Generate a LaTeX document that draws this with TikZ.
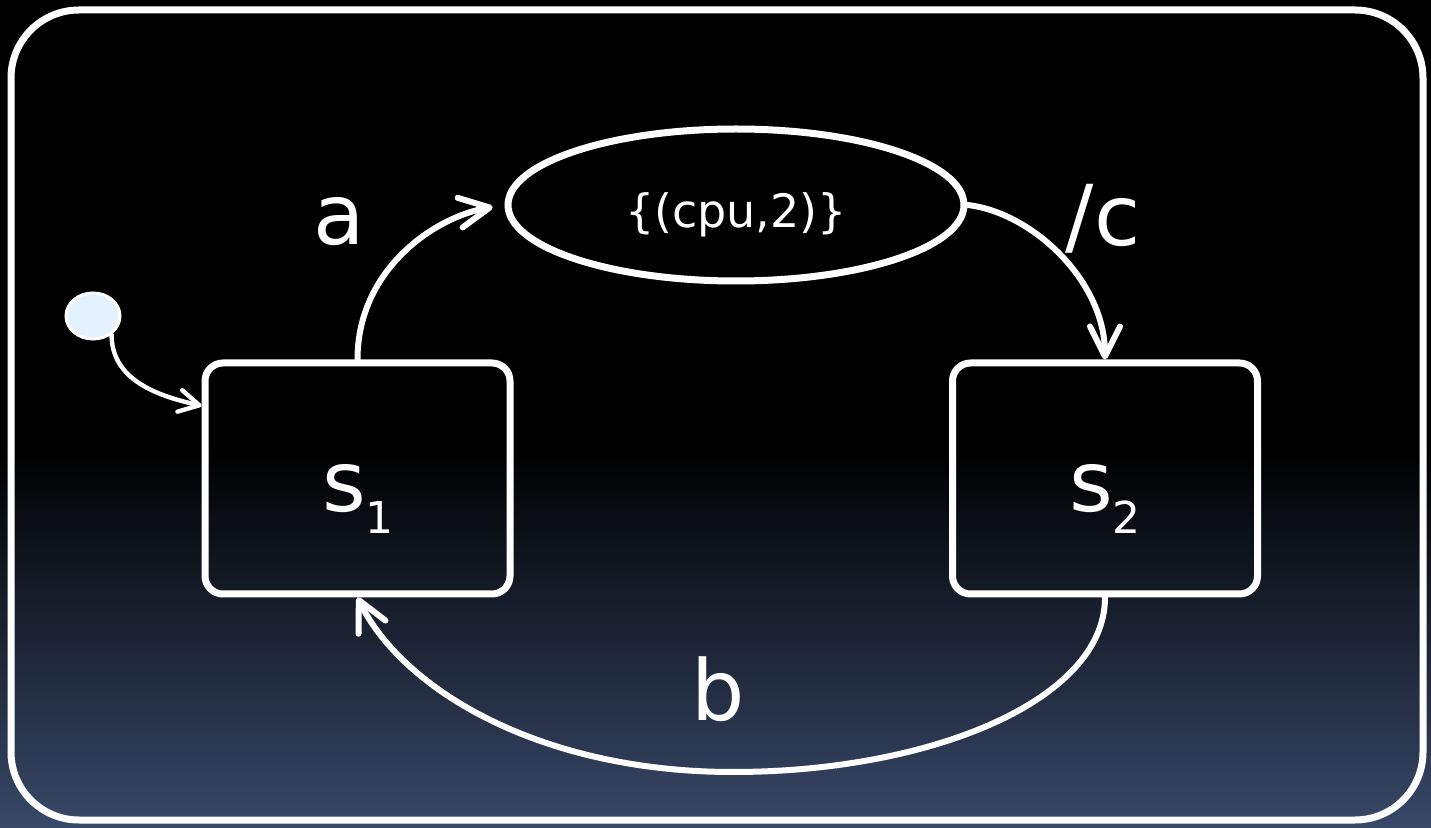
\documentclass[tikz,border=0pt]{standalone}
\usepackage{fontspec}
\setmainfont{DejaVu Sans}
\usetikzlibrary{shapes.geometric,arrows.meta,calc}
\definecolor{bgblue}{RGB}{56,72,104}
\definecolor{dotfill}{RGB}{228,242,255}
\newcommand{\statesub}[1]{\raisebox{-11pt}{\fontsize{22}{22}\selectfont #1}}
\begin{document}
\begin{tikzpicture}[x=0.5pt,y=-0.5pt,
  state/.style={draw=white, line width=3.5pt, rounded corners=9pt,
    minimum width=152.5pt, minimum height=115.5pt, inner sep=0pt},
  cond/.style={ellipse, draw=white, line width=3.5pt, text=white,
    font=\fontsize{23}{23}\selectfont,
    minimum width=228pt, minimum height=76pt, inner sep=0pt},
  initdot/.style={ellipse, draw=white, fill=dotfill, line width=1.5pt,
    minimum width=27pt, minimum height=23pt, inner sep=0pt},
  trans/.style={draw=white, line width=3pt, line cap=round,
    -{Straight Barb[length=15pt,width=15pt,round]}},
  lbl/.style={text=white, font=\fontsize{42}{42}\selectfont,
    anchor=base, inner sep=0pt}
]
% canvas and background
\useasboundingbox (0,0) rectangle (1431,828);
\fill[black] (0,0) rectangle (1431,450);
\shade[top color=black, bottom color=bgblue] (0,450) rectangle (1431,828);

% enclosing frame
\node[draw=white, line width=3.5pt, rounded corners=34pt,
  minimum width=706pt, minimum height=405pt, inner sep=0pt] (frame) at (717,415) {};

% states
\node[state] (s1) at (357.5,478.5) {};
\node[state] (s2) at (1105,478.5) {};
\node[lbl] (s1l) at (358,512) {s\statesub{1}};
\node[lbl] (s2l) at (1105,512) {s\statesub{2}};

% resource condition (baseline set slightly below the centre)
\node[cond] (c) at (736,205) {\smash{\raisebox{-11.5pt}{\{(cpu,2)\}}}};

% initial pseudo-state
\node[initdot] (init) at (93,316) {};

% transitions
\draw[trans, line width=2.2pt, -{Straight Barb[length=10pt,width=11pt,round]}]
  (init.-45) .. controls +(0,45) and +(-45,-10) .. (s1.155);
\draw[trans, shorten >=6pt]
  (s1.north) .. controls +(0,-90) and +(-70,12) .. (c.west);
\draw[trans]
  (c.east) .. controls +(63,7) and +(0,-80) .. (s2.north);
\coordinate (bb) at (733,772);
\draw[trans]
  (s2.south) .. controls +(0,103) and +(197,0) .. (bb)
  .. controls +(-193,0) and +(45,92) .. (s1.south);

% transition labels
\node[lbl] (la) at (339,245) {a};
\node[lbl] (lc) at (1103,246) {/c};
\node[lbl] (lb) at (718,720) {b};
\end{tikzpicture}
\end{document}
